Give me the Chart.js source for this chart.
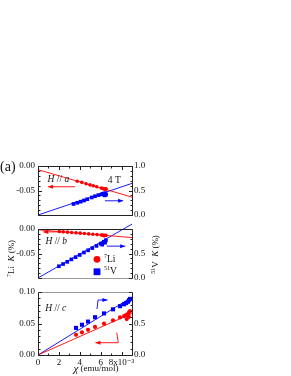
<!DOCTYPE html>
<html><head><meta charset="utf-8">
<script src="https://cdn.jsdelivr.net/npm/chart.js@4/dist/chart.umd.min.js"></script>
<style>
html,body{margin:0;padding:0;background:#fff;}
#wrap{position:relative;width:291px;height:376px;}
#wrap canvas{position:absolute;left:0;top:0;}
</style></head>
<body><div id="wrap">
<canvas id="pa" width="291" height="376"></canvas>
<canvas id="pb" width="291" height="376"></canvas>
<canvas id="pc" width="291" height="376"></canvas>
</div>
<script>
// ---------- data (chi in 10^-3 emu/mol, K in %) ----------
// panel (a) H // a
const chiA_Li = [3.76, 4.19, 4.60, 4.98, 5.29, 5.62, 6.05, 6.18, 6.28, 6.37, 6.46, 6.52];
const KA_Li   = [-0.0310, -0.0334, -0.0361, -0.0386, -0.0404, -0.0424, -0.0450, -0.0458, -0.0462, -0.0470, -0.0476, -0.0466];
const chiA_V  = [3.40, 3.76, 4.09, 4.41, 4.72, 5.14, 5.46, 5.78, 6.08, 6.20, 6.30, 6.38, 6.45, 6.52];
const KA_V    = [0.225, 0.250, 0.272, 0.296, 0.322, 0.358, 0.383, 0.406, 0.420, 0.432, 0.438, 0.400, 0.445, 0.415];
// panel (b) H // b
const chiB_Li = [2.04, 2.42, 2.82, 3.22, 3.64, 4.04, 4.44, 4.85, 5.25, 5.65, 6.05, 6.20, 6.32, 6.42, 6.50];
const KB_Li   = [-0.0050, -0.0058, -0.0064, -0.0071, -0.0079, -0.0085, -0.0093, -0.0100, -0.0108, -0.0114, -0.0121, -0.0124, -0.0140, -0.0128, -0.0131];
const chiB_V  = [2.00, 2.40, 2.80, 3.20, 3.60, 4.00, 4.40, 4.80, 5.20, 5.60, 6.00, 6.15, 6.30, 6.42, 6.50];
const KB_V    = [0.240, 0.285, 0.330, 0.380, 0.425, 0.470, 0.520, 0.565, 0.610, 0.655, 0.700, 0.680, 0.740, 0.720, 0.770];
// panel (c) H // c
const chiC_Li = [3.64, 4.21, 4.79, 5.46, 6.32, 7.18, 7.85, 8.24, 8.43, 8.50, 8.62, 8.70, 8.72, 8.81];
const KC_Li   = [0.0320, 0.0360, 0.0400, 0.0445, 0.0497, 0.0550, 0.0597, 0.0618, 0.0633, 0.0570, 0.0655, 0.0605, 0.0680, 0.0697];
const chiC_V  = [3.64, 4.21, 4.79, 5.46, 6.32, 7.18, 7.85, 8.24, 8.43, 8.62, 8.72, 8.81];
const KC_V    = [0.430, 0.480, 0.530, 0.600, 0.660, 0.725, 0.775, 0.805, 0.825, 0.845, 0.870, 0.890];
// linear fits (chi = 0 and 9)
const fitChi  = [0, 9];
const fitA_Li = [-0.0075, -0.0635];
const fitA_V  = [0, 0.646];
const fitB_Li = [-0.0016, -0.0175];
const fitB_V  = [0, 1.10];
const fitC_Li = [0, 0.066];
const fitC_V  = [0, 0.920];
// tick labels
const xTickValues = [0, 2, 4, 6, 8];
const xTickLabels = ['0', '2', '4', '6', '8x10\u207B\u00B3'];
const liTickValuesAB = [0, -0.05];
const liTickLabelsAB = ['0.00', '-0.05'];
const liTickValuesC = [0.10, 0.05, 0];
const liTickLabelsC = ['0.10', '0.05', '0.00'];
const vTickValuesA = [1, 0.5, 0];
const vTickLabelsA = ['1.0', '0.5', '0.0'];
const vTickValuesBC = [0.5, 0];
const vTickLabelsBC = ['0.5', '0.0'];

// ---------- helpers ----------
const RED = '#ff0000', BLUE = '#0000ff';
const SERIF = '"Liberation Serif", "DejaVu Serif", serif';
const pts = (xs, ys) => xs.map((x, i) => ({x, y: ys[i]}));
const lookup = (vals, labs) => v => { const i = vals.findIndex(u => Math.abs(u - v) < 1e-9); return i < 0 ? '' : labs[i]; };

function drawRich(ctx, parts, x, y, align, rot) {
  ctx.save();
  ctx.translate(x, y);
  if (rot) ctx.rotate(rot);
  let w = 0;
  parts.forEach(p => { ctx.font = p.f; p.w = ctx.measureText(p.t).width; w += p.w; });
  let cx = align === 'center' ? -w / 2 : (align === 'right' ? -w : 0);
  ctx.textBaseline = 'middle'; ctx.textAlign = 'left';
  parts.forEach(p => { ctx.font = p.f; ctx.fillStyle = p.c || '#111'; ctx.fillText(p.t, cx, p.dy || 0); cx += p.w; });
  ctx.restore();
}
function arrow(ctx, P, color) {
  ctx.save();
  ctx.strokeStyle = color; ctx.fillStyle = color; ctx.lineWidth = 0.9;
  ctx.beginPath(); ctx.moveTo(P[0][0], P[0][1]);
  for (let i = 1; i < P.length; i++) ctx.lineTo(P[i][0], P[i][1]);
  ctx.stroke();
  const [x1, y1] = P[P.length - 2], [x2, y2] = P[P.length - 1];
  const a = Math.atan2(y2 - y1, x2 - x1), L = 5, W = 2;
  ctx.beginPath();
  ctx.moveTo(x2, y2);
  ctx.lineTo(x2 - L * Math.cos(a) + W * Math.sin(a), y2 - L * Math.sin(a) - W * Math.cos(a));
  ctx.lineTo(x2 - L * Math.cos(a) - W * Math.sin(a), y2 - L * Math.sin(a) + W * Math.cos(a));
  ctx.closePath(); ctx.fill();
  ctx.restore();
}
const F = (s, it) => (it ? 'italic ' : '') + s + 'px ' + SERIF;

const deco = {
  id: 'deco',
  afterDraw(chart, args, o) {
    const ctx = chart.ctx, ca = chart.chartArea;
    const sx = chart.scales.x, sl = chart.scales.yL, sr = chart.scales.yR;
    const r = v => Math.round(v) + 0.5;
    const L = r(ca.left), R = r(ca.right), T = r(ca.top), B = r(ca.bottom);
    ctx.save();
    ctx.lineWidth = 1;
    const edge = (x1, y1, x2, y2, c) => { ctx.strokeStyle = c; ctx.beginPath(); ctx.moveTo(x1, y1); ctx.lineTo(x2, y2); ctx.stroke(); };
    edge(L, T, L, B, '#222');
    edge(R, T, R, B, '#222');
    edge(L, T, R, T, o.topColor || '#222');
    edge(L, B, R, B, o.bottomColor || '#222');
    ctx.strokeStyle = '#222';
    const tick = (x1, y1, x2, y2) => { ctx.beginPath(); ctx.moveTo(x1, y1); ctx.lineTo(x2, y2); ctx.stroke(); };
    for (let k = 0; k <= 10; k++) {
      const v = sl.min + k * 0.01, y = r(sl.getPixelForValue(v));
      const len = (k % 5 === 0) ? 3.5 : 2;
      tick(L, y, L + len, y);
    }
    for (let k = 0; k <= 10; k++) {
      const v = k * 0.1, y = r(sr.getPixelForValue(v));
      const len = (k % 5 === 0) ? 3.5 : 2;
      tick(R, y, R - len, y);
    }
    for (let k = 0; k <= 9; k++) {
      const x = r(sx.getPixelForValue(k));
      const len = (k % 2 === 0) ? 3.5 : 2;
      if (o.bottomTicks) tick(x, B, x, B - len);
      if (o.topTicks) tick(x, T, x, T + len);
    }
    ctx.restore();
    (o.arrows || []).forEach(a => {
      const sc = a.axis === 'L' ? sl : sr;
      arrow(ctx, a.p.map(q => [sx.getPixelForValue(q[0]), sc.getPixelForValue(q[1])]), a.c);
    });
    (o.texts || []).forEach(t => {
      const sc = t.axis === 'L' ? sl : sr;
      drawRich(ctx, t.parts, sx.getPixelForValue(t.x), sc.getPixelForValue(t.y), t.align || 'center');
    });
    (o.legend || []).forEach(g => {
      const px = sx.getPixelForValue(g.x), py = sl.getPixelForValue(g.y);
      ctx.save(); ctx.fillStyle = g.c;
      if (g.shape === 'circle') { ctx.beginPath(); ctx.arc(px, py, 3.4, 0, Math.PI * 2); ctx.fill(); }
      else { ctx.fillRect(px - 3.4, py - 3.4, 6.8, 6.8); }
      ctx.restore();
      drawRich(ctx, g.parts, px + 7, py, 'left');
    });
    if (o.global) {
      const yMid = (166 + 355) / 2;
      drawRich(ctx, [{t: '(a)', f: F(14)}], 0, 167, 'left');
      drawRich(ctx, [{t: '7', f: F(6), dy: -3}, {t: 'Li  ', f: F(9)}, {t: 'K', f: F(9, true)}, {t: ' (%)', f: F(9)}], 12, yMid - 2, 'center', -Math.PI / 2);
      drawRich(ctx, [{t: '51', f: F(6), dy: -3}, {t: 'V  ', f: F(9)}, {t: 'K', f: F(9, true)}, {t: ' (%)', f: F(9)}], 156, yMid - 6, 'center', -Math.PI / 2);
      drawRich(ctx, [{t: '\u03C7', f: F(11, true)}, {t: ' (emu/mol)', f: F(9)}], (ca.left + ca.right) / 2 + 11, 369, 'center');
    }
  }
};

function makePanel(id, cfg) {
  const tickFont = {family: SERIF, size: 9};
  return new Chart(document.getElementById(id), {
    type: 'scatter',
    data: {datasets: [
      {data: pts(cfg.chiLi, cfg.KLi), yAxisID: 'yL', pointStyle: 'circle', pointRadius: cfg.rLi, backgroundColor: RED, borderWidth: 0, clip: false},
      {data: pts(cfg.chiV, cfg.KV), yAxisID: 'yR', pointStyle: 'rect', pointRadius: cfg.rV, backgroundColor: BLUE, borderWidth: 0, clip: false},
      {data: pts(fitChi, cfg.fitLi), yAxisID: 'yL', showLine: true, pointRadius: 0, borderColor: RED, borderWidth: 0.9, clip: false},
      {data: pts(fitChi, cfg.fitV), yAxisID: 'yR', showLine: true, pointRadius: 0, borderColor: BLUE, borderWidth: 0.9, clip: false}
    ]},
    options: {
      responsive: false, animation: false, devicePixelRatio: 1,
      layout: {padding: {left: 8, right: 135, top: cfg.top, bottom: cfg.bottomPad}},
      plugins: {legend: {display: false}, tooltip: {enabled: false}, deco: cfg.deco},
      scales: {
        x: {type: 'linear', min: 0, max: 9, display: cfg.showX,
            afterFit: s => { s.height = 14; },
            grid: {display: false, drawTicks: false}, border: {display: false},
            ticks: {stepSize: 2, autoSkip: false, maxRotation: 0, padding: 2, color: '#111', font: tickFont,
                    callback: lookup(xTickValues, xTickLabels)}},
        yL: {type: 'linear', position: 'left', min: cfg.lmin, max: cfg.lmax,
             afterFit: s => { s.width = 30; },
             grid: {display: false, drawTicks: false}, border: {display: false},
             ticks: {stepSize: 0.05, autoSkip: false, padding: 3, color: '#111', font: tickFont,
                     callback: lookup(cfg.lv, cfg.ll)}},
        yR: {type: 'linear', position: 'right', min: 0, max: 1,
             afterFit: s => { s.width = 24; },
             grid: {display: false, drawTicks: false}, border: {display: false},
             ticks: {stepSize: 0.5, autoSkip: false, padding: 2, color: '#111', font: tickFont,
                     callback: lookup(cfg.rv, cfg.rl)}}
      }
    },
    plugins: [deco]
  });
}

makePanel('pa', {
  chiLi: chiA_Li, KLi: KA_Li, chiV: chiA_V, KV: KA_V, fitLi: fitA_Li, fitV: fitA_V, rLi: 1.8, rV: 2.6,
  top: 166, bottomPad: 376 - 229, showX: false, lmin: -0.10, lmax: 0,
  lv: liTickValuesAB, ll: liTickLabelsAB, rv: vTickValuesA, rl: vTickLabelsA,
  deco: {
    topTicks: true, global: true,
    arrows: [
      {axis: 'L', c: RED, p: [[3.54, -0.0424], [0.96, -0.0424]]},
      {axis: 'R', c: BLUE, p: [[6.4, 0.29], [8.15, 0.29]]}
    ],
    texts: [
      {axis: 'L', x: 1.95, y: -0.027, parts: [{t: 'H', f: F(9.5, true)}, {t: ' // ', f: F(9.5)}, {t: 'a', f: F(9.5, true)}]},
      {axis: 'L', x: 7.3, y: -0.0286, parts: [{t: '4 T', f: F(9.5)}]}
    ]
  }
});
makePanel('pb', {
  chiLi: chiB_Li, KLi: KB_Li, chiV: chiB_V, KV: KB_V, fitLi: fitB_Li, fitV: fitB_V, rLi: 1.8, rV: 2.6,
  top: 229, bottomPad: 376 - 292, showX: false, lmin: -0.10, lmax: 0,
  lv: liTickValuesAB, ll: liTickLabelsAB, rv: vTickValuesBC, rl: vTickLabelsBC,
  deco: {
    bottomColor: '#999',
    arrows: [
      {axis: 'L', c: RED, p: [[2.4, -0.0059], [0.5, -0.0059]]},
      {axis: 'R', c: BLUE, p: [[6.6, 0.65], [8.35, 0.65]]}
    ],
    texts: [
      {axis: 'L', x: 1.75, y: -0.0254, parts: [{t: 'H', f: F(9.5, true)}, {t: ' // ', f: F(9.5)}, {t: 'b', f: F(9.5, true)}]}
    ],
    legend: [
      {x: 5.65, y: -0.0619, c: RED, shape: 'circle', parts: [{t: '7', f: F(6), dy: -3}, {t: 'Li', f: F(9.5)}]},
      {x: 5.65, y: -0.0873, c: BLUE, shape: 'rect', parts: [{t: '51', f: F(6), dy: -3}, {t: 'V', f: F(9.5)}]}
    ]
  }
});
makePanel('pc', {
  chiLi: chiC_Li, KLi: KC_Li, chiV: chiC_V, KV: KC_V, fitLi: fitC_Li, fitV: fitC_V, rLi: 2.1, rV: 2.9,
  top: 292, bottomPad: 376 - 355 - 14, showX: true, lmin: 0, lmax: 0.10,
  lv: liTickValuesC, ll: liTickLabelsC, rv: vTickValuesBC, rl: vTickLabelsBC,
  deco: {
    topColor: '#999', bottomTicks: true,
    arrows: [
      {axis: 'R', c: BLUE, p: [[5.65, 0.73], [5.75, 0.873], [6.65, 0.873]]},
      {axis: 'L', c: RED, p: [[7.54, 0.0354], [7.69, 0.0195], [5.5, 0.0195]]}
    ],
    texts: [
      {axis: 'L', x: 1.7, y: 0.0746, parts: [{t: 'H', f: F(9.5, true)}, {t: ' // ', f: F(9.5)}, {t: 'c', f: F(9.5, true)}]}
    ]
  }
});
</script>
</body></html>
